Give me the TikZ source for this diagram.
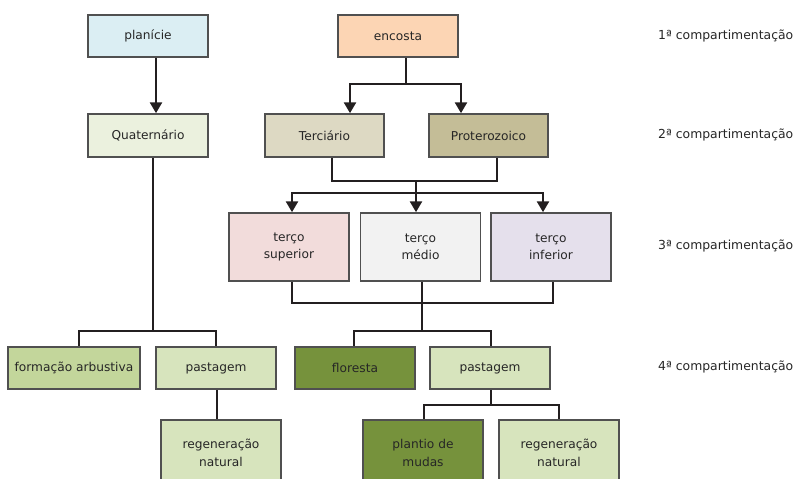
\documentclass[tikz,border=0pt]{standalone}
\usepackage{fontspec}
\setmainfont{DejaVu Sans}
\usetikzlibrary{arrows.meta}
\definecolor{linec}{HTML}{231F20}
\definecolor{bordc}{HTML}{505050}
\definecolor{txtc}{HTML}{262626}
\definecolor{cpla}{HTML}{DBEEF3}
\definecolor{cenc}{HTML}{FCD5B4}
\definecolor{cqua}{HTML}{EBF1DE}
\definecolor{cter}{HTML}{DDD9C3}
\definecolor{cpro}{HTML}{C4BD97}
\definecolor{csup}{HTML}{F2DCDB}
\definecolor{cmed}{HTML}{F2F2F2}
\definecolor{cinf}{HTML}{E5E0EC}
\definecolor{carb}{HTML}{C3D69B}
\definecolor{cpas}{HTML}{D7E4BD}
\definecolor{cflo}{HTML}{76923C}
\tikzset{
  box/.style={draw=bordc, line width=1.5pt, minimum width=120pt, minimum height=42pt,
    inner sep=0pt, align=center, text=txtc,
    font=\fontsize{12.2}{17.5}\selectfont},
  tall/.style={box, minimum height=68pt},
  conn/.style={draw=linec, line width=2.6pt},
  arr/.style={conn, -{Triangle[width=12pt,length=11pt]}},
  lvl/.style={anchor=west, inner sep=0pt, text=txtc, font=\fontsize{12.4}{14}\selectfont}
}
\begin{document}
\begin{tikzpicture}[x=1pt,y=-1pt]
\useasboundingbox (0,0) rectangle (796,479);
\clip (0,0) rectangle (796,479);
% level 1
\node[box, fill=cpla] (pla) at (148,36) {planície};
\node[box, fill=cenc] (enc) at (398,36) {encosta};
% level 2
\node[box, fill=cqua, minimum height=43pt] (qua) at (148,135.5) {Quaternário};
\node[box, fill=cter, minimum width=119pt, minimum height=43pt] (ter) at (324.5,135.5) {Terciário};
\node[box, fill=cpro, minimum width=119pt, minimum height=43pt] (pro) at (488.5,135.5) {Proterozoico};
% level 3
\node[tall, fill=csup] (sup) at (289,247) {terço\\superior};
\node[tall, fill=cmed] (med) at (420.5,247) {terço\\médio};
\node[tall, fill=cinf] (inf) at (551,247) {terço\\inferior};
% level 4
\node[box, fill=carb, minimum width=132pt] (arb) at (74,368) {formação arbustiva};
\node[box, fill=cpas] (pasL) at (216,368) {pastagem};
\node[box, fill=cflo] (flo) at (355,368) {floresta};
\node[box, fill=cpas] (pasR) at (490,368) {pastagem};
% level 5
\node[box, fill=cpas, minimum height=66pt] (regL) at (221,453) {regeneração\\natural};
\node[box, fill=cflo, minimum height=66pt] (plm) at (423,453) {plantio de\\mudas};
\node[box, fill=cpas, minimum height=66pt] (regR) at (559,453) {regeneração\\natural};
% level labels
\node[lvl] (l1) at (658,36) {1ª compartimentação};
\node[lvl] (l2) at (658,135) {2ª compartimentação};
\node[lvl] (l3) at (658,246) {3ª compartimentação};
\node[lvl] (l4) at (658,367) {4ª compartimentação};
% connectors
\draw[arr] ([xshift=8pt]pla.south) -- ([xshift=8pt]qua.north);
\coordinate (e1) at ([xshift=8pt]enc.south);
\coordinate (ej) at (406,84);
\draw[conn] (e1) -- (ej);
\draw[arr] (ej) -| ([xshift=25.5pt]ter.north);
\draw[arr] (ej) -| ([xshift=-27.5pt]pro.north);
\draw[conn] ([xshift=7.5pt]ter.south) |- (416,181) -| ([xshift=8.5pt]pro.south);
\coordinate (tj) at (416,193);
\draw[conn] (416,181) -- (tj);
\draw[arr] (tj) -| ([xshift=3pt]sup.north);
\draw[arr] (tj) -- (tj |- med.north);
\draw[arr] (tj) -| ([xshift=-8pt]inf.north);
\draw[conn] ([xshift=3pt]sup.south) |- (422,303) -| ([xshift=2pt]inf.south);
\draw[conn] ([xshift=1.5pt]med.south) -- (422,331);
\coordinate (mj) at (422,331);
\draw[conn] (mj) -| ([xshift=-1pt]flo.north);
\draw[conn] (mj) -| ([xshift=1pt]pasR.north);
\coordinate (qj) at (153,331);
\draw[conn] ([xshift=5pt]qua.south) -- (qj);
\draw[conn] (qj) -| ([xshift=5pt]arb.north);
\draw[conn] (qj) -| ([xshift=0pt]pasL.north);
\draw[conn] ([xshift=1pt]pasL.south) -- ([xshift=1pt]pasL.south |- regL.north);
\coordinate (pj) at (491,405);
\draw[conn] ([xshift=1pt]pasR.south) -- (pj);
\draw[conn] (pj) -| ([xshift=1pt]plm.north);
\draw[conn] (pj) -| (regR.north);
\end{tikzpicture}
\end{document}
